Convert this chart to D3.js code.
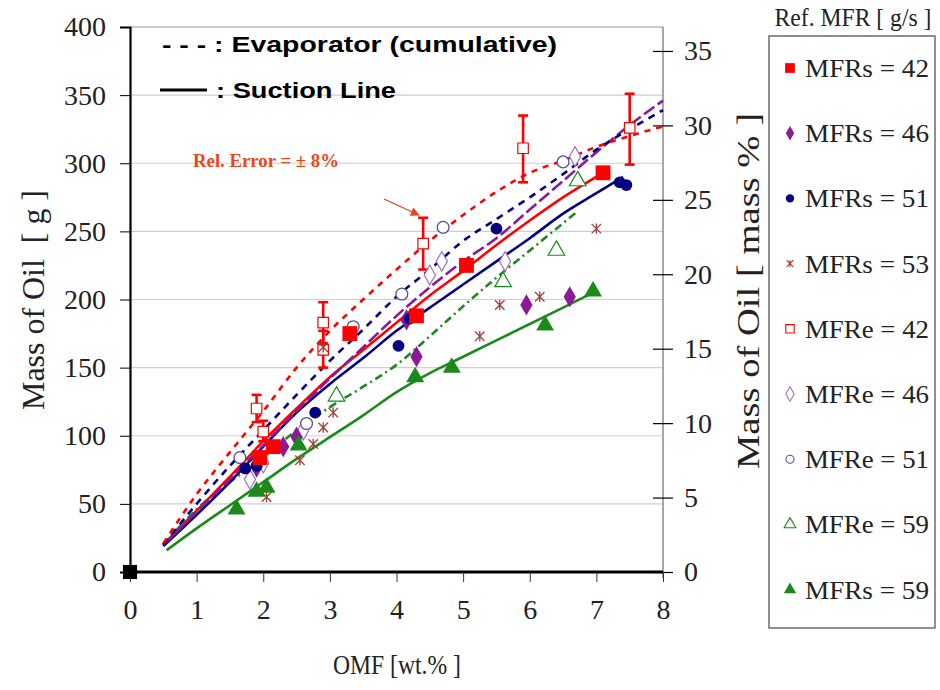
<!DOCTYPE html>
<html><head><meta charset="utf-8">
<script src="https://cdn.jsdelivr.net/npm/d3@7"></script>
<style>body{margin:0;background:#fff}svg{display:block}</style>
</head><body>
<svg id="c" width="940" height="690"></svg>
<script>
// ---------- data ----------
const xTicks = [0,1,2,3,4,5,6,7,8];
const yLeftTicks = [0,50,100,150,200,250,300,350,400];
const yRightTicks = [0,5,10,15,20,25,30,35];

// Evaporator (cumulative) – dashed lines  [OMF, g]
const evapRed    = [[0.5,21],[1,57],[1.5,88],[2,118],[2.5,150],[3,177],[3.5,200],[4,222],[4.5,243],[5,262],[5.5,279],[6,293],[6.5,302],[7,312],[7.5,320],[8,327]];
const evapNavy   = [[0.5,20],[1,50],[1.5,78],[2,104],[2.5,130],[3,155],[3.5,178],[4,202],[4.5,222],[5,243],[5.5,259],[6,275],[6.5,292],[7,310],[7.5,325],[8,339]];
const evapPurple = [[0.5,20],[1,44],[1.5,68],[2,93],[2.5,118],[3,142],[3.5,165],[4,188],[4.5,209],[5,228],[5.5,245],[6,266],[6.5,287],[7,308],[7.5,328],[8,346]];
const evapGreen  = [[0.5,20],[1,46],[1.5,66],[2,84],[2.5,104],[3,121],[3.5,136],[4,152],[4.5,173],[5,195],[5.5,216],[6,236],[6.7,264]];
// Suction line – solid lines
const suctRed    = [[0.5,20],[1,45],[1.5,70],[2,96],[2.5,120],[3,143],[3.5,163],[4,183],[4.5,203],[5,221],[5.5,240],[6,258],[6.5,275],[7.1,293]];
const suctNavy   = [[0.5,19],[1,42],[1.5,66],[2,92],[2.5,117],[3,138],[3.5,157],[4,177],[4.5,194],[5,211],[5.5,228],[6,245],[6.5,263],[7,278],[7.4,290]];
const suctGreen  = [[0.55,16],[1,32],[1.5,49],[2,66],[2.5,83],[3,99],[3.5,115],[4,132],[4.5,146],[5,158],[5.5,170],[6,182],[6.5,194],[6.95,205]];

// measured points
const mfrs42 = [[1.95,84],[2.15,92],[3.3,175],[4.3,188],[5.05,225],[7.1,293]];
const mfrs46 = [[1.9,77],[2.3,92],[2.5,99],[4.15,185],[4.3,158],[5.95,196],[6.6,202]];
const mfrs51 = [[1.73,76],[1.9,78],[2.78,117],[4.03,166],[4.2,186],[5.5,252],[7.35,286],[7.45,284]];
const mfrs53 = [[2.05,55],[2.55,82],[2.75,94],[2.9,106],[3.05,117],[2.9,165],[5.25,173],[5.55,196],[6.15,202],[7.0,252]];
const mfre42 = [[1.9,120],[2.0,103],[2.9,183],[2.9,163],[4.4,241],[5.9,311],[7.5,326]];
const mfre42Err = [[1.9,110,130],[2.0,96,111],[2.9,168,198],[2.9,150,177],[4.4,222,260],[5.9,286,335],[7.5,299,351]];
const mfre46 = [[1.8,68],[2.0,80],[2.6,104],[4.5,218],[4.68,228],[5.63,228],[6.68,305]];
const mfre51 = [[1.65,84],[2.65,109],[3.35,180],[4.08,204],[4.7,253],[6.5,301]];
const mfre59 = [[3.1,129],[5.6,213],[6.4,236],[6.72,287]];
const mfrs59 = [[1.6,46],[1.9,59],[2.05,62],[2.53,93],[4.28,143],[4.83,150],[6.23,181],[6.95,206]];
const origin = [[0,0]];

const legendLabels = ["MFRs = 42","MFRs = 46","MFRs = 51","MFRs = 53","MFRe = 42","MFRe = 46","MFRe = 51","MFRe = 59","MFRs = 59"];

// ---------- chart ----------
const RED="#ff0000", PURPLE="#8a1a96", NAVY="#000080", BROWN="#a0403a", GREEN="#1b8a1b", OPUR="#a070c0", ONAVY="#5050a0";
const SERIF = '"Liberation Serif", "Times New Roman", serif', SANS = '"Liberation Sans", Arial, sans-serif';
const svg = d3.select("#c");
const x = d3.scaleLinear().domain([0,8]).range([130,663]);
const y = d3.scaleLinear().domain([0,400]).range([572,27]);
const yR = d3.scaleLinear().domain([0,36.61]).range([572,27]);

// gridlines
svg.append("g").selectAll("line").data(yLeftTicks.filter(d=>d>0)).join("line")
  .attr("x1",130).attr("x2",663).attr("y1",d=>y(d)).attr("y2",d=>y(d))
  .attr("stroke",d=>d===400?"#999":"#cfcfcf").attr("stroke-width",1.2);
// right axis line (gray)
svg.append("line").attr("x1",663).attr("x2",663).attr("y1",27).attr("y2",578).attr("stroke","#8a8a8a").attr("stroke-width",1.5);

function styleTicks(g){
  g.attr("font-family",SERIF);
  g.selectAll("text").style("font-family",SERIF).style("font-size","28px").attr("fill","#222");
}
// left axis
const gL = svg.append("g").attr("transform","translate(130,0)")
  .call(d3.axisLeft(y).tickValues(yLeftTicks).tickSize(10).tickPadding(14));
gL.select(".domain").attr("stroke","#000").attr("stroke-width",2.2);
styleTicks(gL);

// right axis
const gR = svg.append("g").attr("transform","translate(663,0)")
  .call(d3.axisRight(yR).tickValues(yRightTicks).tickSize(10).tickPadding(11));
gR.select(".domain").remove();
gR.selectAll(".tick line").attr("x1",-10).attr("stroke","#000").attr("stroke-width",1.2);
styleTicks(gR);

// bottom axis
const gB = svg.append("g").attr("transform","translate(0,572)")
  .call(d3.axisBottom(x).tickValues(xTicks).tickSize(10).tickPadding(17));
gB.select(".domain").attr("stroke","#000").attr("stroke-width",2.8).attr("d","M130,0H663");
gB.selectAll(".tick line").attr("stroke","#333").attr("stroke-width",1);
styleTicks(gB);

// axis titles
svg.append("text").attr("transform","translate(44,300) rotate(-90)").attr("text-anchor","middle")
  .style("font-family",SERIF).style("font-size","32px").attr("fill","#222").style("white-space","pre")
  .attr("textLength",220).attr("lengthAdjust","spacingAndGlyphs").text("Mass of Oil  [ g ]");
svg.append("text").attr("transform","translate(759,291) rotate(-90)").attr("text-anchor","middle")
  .style("font-family",SERIF).style("font-size","32px").attr("fill","#222")
  .attr("textLength",356).attr("lengthAdjust","spacingAndGlyphs").text("Mass of Oil [ mass % ]");
svg.append("text").attr("x",397).attr("y",674).attr("text-anchor","middle")
  .style("font-family",SERIF).style("font-size","28px").attr("fill","#222")
  .attr("textLength",128).attr("lengthAdjust","spacingAndGlyphs").text("OMF [wt.% ]");

// lines
const line = d3.line().x(d=>x(d[0])).y(d=>y(d[1])).curve(d3.curveMonotoneX);
const lines = [
  [suctGreen, GREEN, null], [evapGreen, GREEN, "8,4,2,4"],
  [suctNavy, NAVY, null], [suctRed, RED, null],
  [evapPurple, PURPLE, "13,4"], [evapNavy, NAVY, "7,6"], [evapRed, RED, "6,6"]
];
svg.append("g").selectAll("path").data(lines).join("path")
  .attr("d",d=>line(d[0])).attr("fill","none").attr("stroke",d=>d[1])
  .attr("stroke-width",2.6).attr("stroke-dasharray",d=>d[2]);

// error bars
const eb = svg.append("g").attr("stroke",RED).attr("stroke-width",2.6);
eb.selectAll("line.v").data(mfre42Err).join("line").attr("class","v")
  .attr("x1",d=>x(d[0])).attr("x2",d=>x(d[0])).attr("y1",d=>y(d[1])).attr("y2",d=>y(d[2]));
eb.selectAll("line.t").data(mfre42Err.flatMap(d=>[[d[0],d[1]],[d[0],d[2]]])).join("line").attr("class","t")
  .attr("x1",d=>x(d[0])-5).attr("x2",d=>x(d[0])+5).attr("y1",d=>y(d[1])).attr("y2",d=>y(d[1]));

// markers
const sym = (type,size)=>d3.symbol().type(type).size(size)();
function pts(data, type, size, fill, stroke, sw){
  svg.append("g").selectAll("path").data(data).join("path")
    .attr("transform",d=>`translate(${x(d[0])},${y(d[1])})`)
    .attr("d",sym(type,size)).attr("fill",fill).attr("stroke",stroke||"none").attr("stroke-width",sw||1);
}
const asterisk = {draw(ctx,size){const r=Math.sqrt(size)/2;ctx.moveTo(-r,-r);ctx.lineTo(r,r);ctx.moveTo(r,-r);ctx.lineTo(-r,r);ctx.moveTo(0,-r*1.1);ctx.lineTo(0,r*1.1);}};
pts(mfre42, d3.symbolSquare, 110, "#fff", RED, 1.2);
pts(mfre46, d3.symbolDiamond, 110, "#fff", OPUR, 1.2);
pts(mfre51, d3.symbolCircle, 110, "#fff", ONAVY, 1.3);
pts(mfre59, d3.symbolTriangle, 120, "#fff", GREEN, 1.2);
pts(mfrs53, asterisk, 90, "none", BROWN, 1.3);
pts(mfrs46, d3.symbolDiamond, 130, PURPLE);
pts(mfrs51, d3.symbolCircle, 110, NAVY);
pts(mfrs59, d3.symbolTriangle, 140, GREEN);
pts(mfrs42, d3.symbolSquare, 220, RED);
pts(origin, d3.symbolSquare, 200, "#000");

// in-plot annotations
svg.append("text").attr("x",162).attr("y",52)
  .style("font-family",SANS).style("font-weight","bold").style("font-size","22px").attr("fill","#000")
  .style("white-space","pre").text("- - - : Evaporator (cumulative)")
  .attr("textLength",395).attr("lengthAdjust","spacingAndGlyphs");
svg.append("line").attr("x1",160).attr("x2",207).attr("y1",90).attr("y2",90).attr("stroke","#000").attr("stroke-width",2.8);
svg.append("text").attr("x",216).attr("y",98)
  .style("font-family",SANS).style("font-weight","bold").style("font-size","22px").attr("fill","#000")
  .text(": Suction Line").attr("textLength",180).attr("lengthAdjust","spacingAndGlyphs");
svg.append("text").attr("x",193).attr("y",167)
  .style("font-family",SERIF).style("font-weight","bold").style("font-size","19px").attr("fill","#e8471e")
  .text("Rel. Error = ± 8%").attr("textLength",146).attr("lengthAdjust","spacingAndGlyphs");
svg.append("defs").append("marker").attr("id","ah").attr("viewBox","0 0 10 10").attr("refX",9).attr("refY",5)
  .attr("markerWidth",7).attr("markerHeight",7).attr("orient","auto")
  .append("path").attr("d","M0,0L10,5L0,10z").attr("fill","#e8471e");
svg.append("line").attr("x1",384).attr("y1",199).attr("x2",419).attr("y2",215).attr("stroke","#e8471e")
  .attr("stroke-width",1.3).attr("marker-end","url(#ah)");

// legend
svg.append("text").attr("x",853).attr("y",26).attr("text-anchor","middle")
  .style("font-family",SERIF).style("font-size","25px").attr("fill","#222")
  .attr("textLength",157).attr("lengthAdjust","spacingAndGlyphs").text("Ref. MFR [ g/s ]");
svg.append("rect").attr("x",769).attr("y",36).attr("width",166).attr("height",592)
  .attr("fill","#fff").attr("stroke","#555").attr("stroke-width",1.3);
const legSyms = [
  [d3.symbolSquare,95,RED,null],[d3.symbolDiamond,60,PURPLE,null],[d3.symbolCircle,55,NAVY,null],
  [asterisk,45,"none",BROWN],[d3.symbolSquare,70,"#fff",RED],[d3.symbolDiamond,60,"#fff",OPUR],
  [d3.symbolCircle,50,"#fff",ONAVY],[d3.symbolTriangle,60,"#fff",GREEN],[d3.symbolTriangle,65,GREEN,null]
];
const lg = svg.append("g").selectAll("g").data(legendLabels).join("g")
  .attr("transform",(d,i)=>`translate(790,${68+i*65.2})`);
lg.append("path").attr("d",(d,i)=>sym(legSyms[i][0],legSyms[i][1])).attr("fill",(d,i)=>legSyms[i][2])
  .attr("stroke",(d,i)=>legSyms[i][3]||"none").attr("stroke-width",1.1);
lg.append("text").attr("x",15).attr("y",9).style("font-family",SERIF).style("font-size","26px")
  .attr("fill","#222").attr("textLength",124).attr("lengthAdjust","spacingAndGlyphs").text(d=>d);
</script>
</body></html>
